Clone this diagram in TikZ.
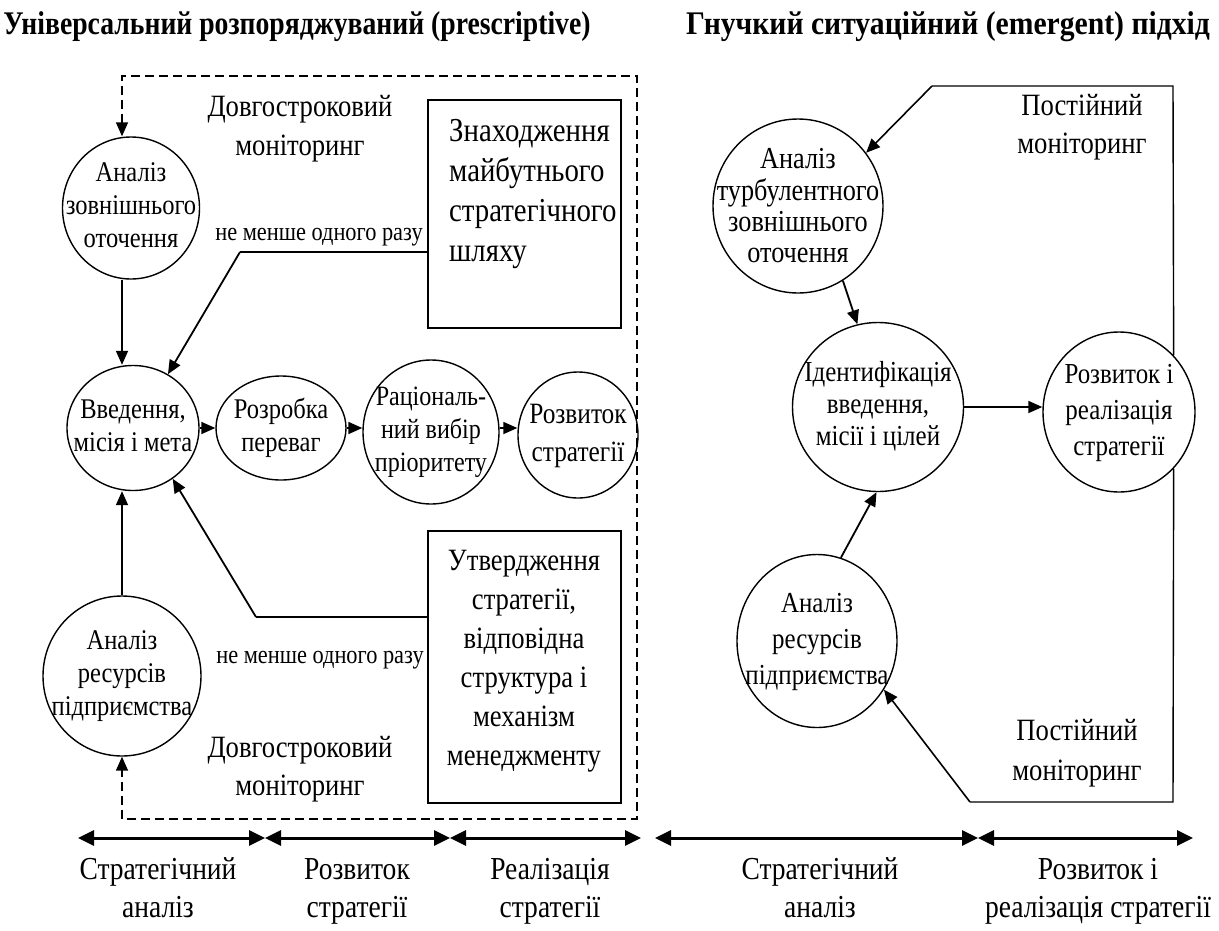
\documentclass[tikz,border=0pt]{standalone}
\usepackage{graphicx}
\usepackage{fontspec}
\setmainfont{Liberation Serif}[FakeStretch=0.86]
\usetikzlibrary{arrows.meta,shapes.geometric}
\newcommand\fntC{\fontsize{28.5}{33}\selectfont}
\newcommand\fntR{\fontsize{29}{36}\selectfont}
\newcommand\fntM{\fontsize{31}{39.5}\selectfont}
\newcommand\fntS{\fontsize{26}{30}\selectfont}
\newcommand\fntL{\fontsize{32}{38}\selectfont}
\newcommand\fntT{\fontsize{33}{38}\selectfont\bfseries}
\begin{document}
\begin{tikzpicture}[x=1pt,y=-1pt,
  ell/.style={draw, ellipse, line width=1.4pt, inner sep=0pt, fill=white},
  ctext/.style={align=center, font=\fntC, inner sep=0pt},
  boxx/.style={draw, rectangle, line width=1.4pt, inner sep=0pt},
  txt/.style={align=center, font=\fntM, inner sep=0pt},
  arr/.style={line width=1.8pt, -{Triangle[length=14pt,width=12pt]}},
  conn/.style={line width=1.4pt},
  dsh/.style={line width=1.5pt, dash pattern=on 9pt off 5pt},
  scalearr/.style={line width=3pt, {Triangle[length=16pt,width=15pt]}-{Triangle[length=16pt,width=15pt]}},
  lbl/.style={align=center, font=\fntL, inner sep=0pt}]
\useasboundingbox (0,0) rectangle (1219,930);

% titles
\node[font=\fntT, inner sep=0pt] (t1) at (297,27) {\scalebox{0.975}[1]{Універсальний розпоряджуваний (prescriptive)}};
\node[font=\fntT, inner sep=0pt] (t2) at (948,27) {\scalebox{1.045}[1]{Гнучкий ситуаційний (emergent) підхід}};

% ===== left diagram =====
\node[ell, minimum width=137pt, minimum height=142pt] (c1) at (131,208) {};
\node[ctext] at (c1) {\strut Аналіз\\зовнішнього\\оточення\strut};
\node[ell, minimum width=132pt, minimum height=125pt] (c2) at (133,428) {};
\node[ctext] at (c2) {\strut Введення,\\місія і мета\strut};
\node[ell, minimum width=130pt, minimum height=104pt] (c3) at (281,428) {};
\node[ctext] at (c3) {\strut Розробка\\переваг\strut};
\node[ell, minimum width=136pt, minimum height=144pt] (c4) at (431,432) {};
\node[ctext, font=\fontsize{28}{33}\selectfont] at (431,432) {\strut Раціональ-\\ний вибір\\пріоритету\strut};
\node[ell, minimum width=120pt, minimum height=126pt] (c5) at (578,435) {};
\node[ctext, font=\fontsize{29.5}{38}\selectfont] at (c5) {\strut Розвиток\\стратегії\strut};
\node[ell, minimum width=158pt, minimum height=160pt] (c6) at (122,676) {};
\node[ctext] at (c6) {\strut Аналіз\\ресурсів\\підприємства\strut};

\node[boxx, minimum width=193pt, minimum height=228pt] (b1) at (524.5,214) {};
\node[txt, align=left, anchor=west, font=\fontsize{33.5}{40}\selectfont] at (449,193) {\strut Знаходження\\майбутнього\\стратегічного\\шляху\strut};
\node[boxx, minimum width=193pt, minimum height=272pt] (b2) at (524.5,667) {};
\node[txt, font=\fontsize{31}{39}\selectfont] at (524,660) {\strut Утвердження\\стратегії,\\відповідна\\структура і\\механізм\\менеджменту\strut};

\node[txt] (m1) at (300,128) {\strut Довгостроковий\\моніторинг\strut};
\node[txt, font=\fontsize{31}{38}\selectfont] (m2) at (300,769) {\strut Довгостроковий\\моніторинг\strut};
\node[font=\fntS, inner sep=0pt] (n1) at (319,237) {не менше одного разу};
\node[font=\fntS, inner sep=0pt] (n2) at (320,660) {не менше одного разу};

% connectors left
\coordinate (k1) at (240,252);
\coordinate (k2) at (256,617);
\draw[conn] (b1.west |- k1) -- (k1);
\draw[arr] (k1) -- (c2.57);
\draw[conn] (b2.west |- k2) -- (k2);
\draw[arr] (k2) -- (c2.-52);
\coordinate (dx) at (122,0);
\draw[arr] (c1.south -| dx) -- (c2.north -| dx);
\draw[arr] (c6.north) -- (c2.south -| c6.north);
\draw[arr] (c2.east) -- (c3.west);
\draw[arr] (c3.east) -- (c4.west |- c3.east);
\draw[arr] (c4.east |- c3.east) -- (c5.west |- c3.east);

% dashed loop
\coordinate (d1) at (122,76);
\coordinate (d2) at (637,76);
\coordinate (d3) at (637,819);
\coordinate (d4) at (122,819);
\draw[dsh, {Triangle[length=14pt,width=12pt]}-{Triangle[length=14pt,width=12pt]}]
  (c1.north -| d1) -- (d1) -- (d2) -- (d3) -- (d4) -- (c6.south);

% ===== right diagram =====
\coordinate (tr) at (1173,86);
\coordinate (tl) at (932,86);
\coordinate (br) at (1173,802);
\coordinate (bl) at (970,802);
\node[ell, minimum width=170pt, minimum height=174pt] (r1) at (798,206) {};
\node[ctext, font=\fontsize{30.5}{31}\selectfont] at (798,209) {\strut Аналіз\\турбулентного\\зовнішнього\\оточення\strut};
\node[ell, minimum width=171pt, minimum height=169pt] (r2) at (878,407) {};
\node[ctext, font=\fontsize{29}{32}\selectfont] at (r2) {\strut Ідентифікація\\введення,\\місії і цілей\strut};
\node[ell, minimum width=160pt, minimum height=173pt] (r3) at (817,641) {};
\node[ctext, font=\fntR] at (r3) {\strut Аналіз\\ресурсів\\підприємства\strut};
\node[ell, minimum width=152pt, minimum height=160pt] (r4) at (1119,412) {};
\node[ctext, font=\fntR] at (r4) {\strut Розвиток і\\реалізація\\стратегії\strut};

\node[txt, font=\fontsize{31}{38}\selectfont] (p1) at (1082,127) {\strut Постійний\\моніторинг\strut};
\node[txt, font=\fontsize{31}{40}\selectfont] (p2) at (1077,752) {\strut Постійний\\моніторинг\strut};

\draw[conn] (r4.46) -- (tr) -- (tl);
\draw[arr, line width=1.6pt] (tl) -- (r1.38);
\draw[conn] (r4.-46) -- (br) -- (bl);
\draw[arr, line width=1.6pt] (bl) -- (r3.-36);
\draw[arr] (r1.-59) -- (r2.104);
\draw[arr] (r3.74) -- (r2.-91);
\draw[arr] (r2.east) -- (r2.east -| r4.west);

% ===== bottom scale =====
\coordinate (a0) at (78,838);
\coordinate (a1) at (265,838);
\coordinate (a2) at (450,838);
\coordinate (a3) at (641,838);
\coordinate (e0) at (655,838);
\coordinate (e1) at (978,838);
\coordinate (e2) at (1193,838);
\draw[scalearr] (a0) -- (a1);
\draw[scalearr] (a1) -- (a2);
\draw[scalearr] (a2) -- (a3);
\draw[scalearr] (e0) -- (e1);
\draw[scalearr] (e1) -- (e2);
\node[lbl] (l1) at (158,891) {\strut Стратегічний\\аналіз\strut};
\node[lbl] (l2) at (357,891) {\strut Розвиток\\стратегії\strut};
\node[lbl] (l3) at (550,891) {\strut Реалізація\\стратегії\strut};
\node[lbl] (l4) at (820,891) {\strut Стратегічний\\аналіз\strut};
\node[lbl] (l5) at (1098,891) {\strut Розвиток і\\реалізація стратегії\strut};
\end{tikzpicture}
\end{document}
